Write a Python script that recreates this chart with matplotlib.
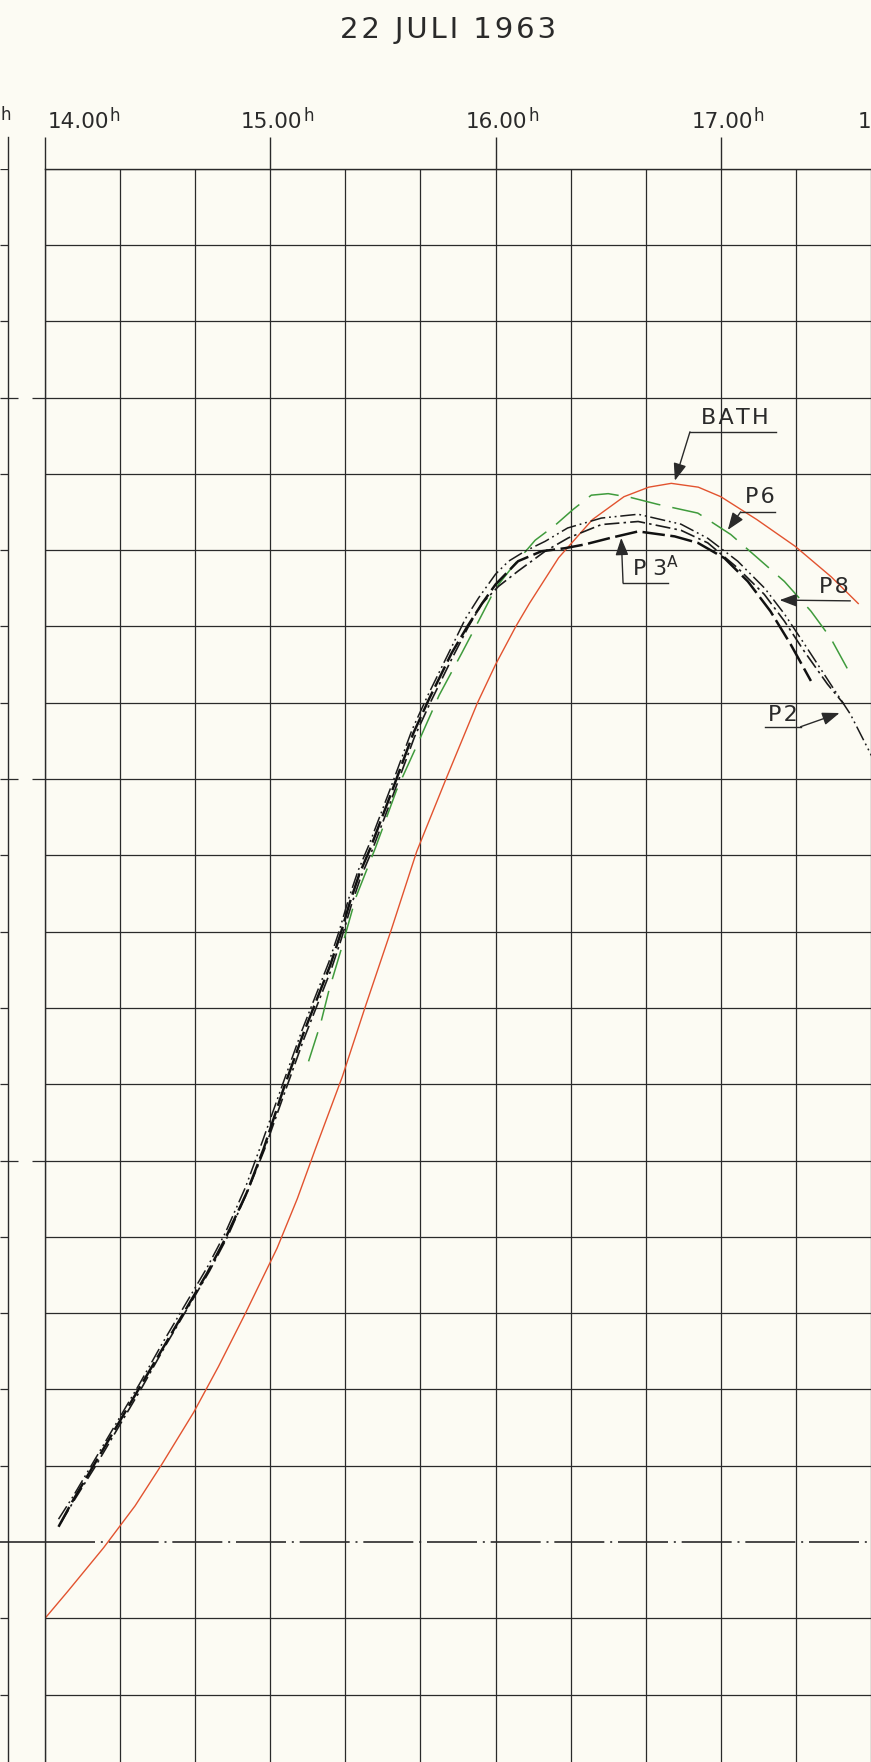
import matplotlib
matplotlib.use("Agg")
import matplotlib.pyplot as plt
import numpy as np

# water level (m) against time of day (decimal hours), 22 juli 1963
bath_t = [14.00, 14.10, 14.26, 14.40, 14.52, 14.66, 14.77, 14.89, 15.03, 15.12, 15.20,
          15.32, 15.42, 15.54, 15.65, 15.78, 15.92, 16.00, 16.09, 16.15, 16.28, 16.43,
          16.57, 16.68, 16.78, 16.90, 17.00, 17.16, 17.33, 17.49, 17.61]
bath_y = [-0.20, -0.13, -0.015, 0.095, 0.205, 0.34, 0.46, 0.60, 0.77, 0.90, 1.03,
          1.22, 1.40, 1.61, 1.81, 2.00, 2.20, 2.30, 2.40, 2.46, 2.58, 2.68,
          2.74, 2.765, 2.775, 2.765, 2.74, 2.68, 2.61, 2.53, 2.46]

p2_t = [14.06, 14.125, 14.21, 14.32, 14.42, 14.52, 14.63, 14.72, 14.80, 14.89, 14.965,
        15.055, 15.14, 15.20, 15.26, 15.305, 15.35, 15.39, 15.44, 15.53, 15.63, 15.70,
        15.80, 15.866, 15.925, 16.00, 16.058, 16.13, 16.22, 16.32, 16.47, 16.633, 16.823,
        16.942, 17.075, 17.195, 17.283, 17.372, 17.487, 17.575, 17.67]
p2_y = [0.06, 0.12, 0.205, 0.315, 0.415, 0.52, 0.63, 0.72, 0.81, 0.93, 1.05,
        1.20, 1.34, 1.43, 1.52, 1.60, 1.69, 1.76, 1.83, 1.97, 2.13, 2.22,
        2.34, 2.42, 2.475, 2.537, 2.571, 2.597, 2.623, 2.658, 2.684, 2.694, 2.668,
        2.631, 2.571, 2.50, 2.432, 2.353, 2.249, 2.170, 2.06]

p8_t = [14.07, 14.13, 14.22, 14.33, 14.43, 14.53, 14.64, 14.73, 14.81, 14.90, 14.975,
        15.065, 15.15, 15.21, 15.27, 15.315, 15.36, 15.40, 15.45, 15.54, 15.64, 15.71,
        15.81, 15.88, 15.94, 16.013, 16.10, 16.22, 16.323, 16.47, 16.633, 16.823, 16.942,
        17.075, 17.193, 17.282, 17.37, 17.473, 17.547]
p8_y = [0.05, 0.11, 0.195, 0.305, 0.405, 0.51, 0.62, 0.71, 0.80, 0.92, 1.03,
        1.18, 1.32, 1.41, 1.50, 1.58, 1.67, 1.74, 1.81, 1.95, 2.11, 2.20,
        2.32, 2.40, 2.46, 2.505, 2.545, 2.597, 2.632, 2.667, 2.675, 2.652, 2.619,
        2.553, 2.484, 2.414, 2.335, 2.249, 2.196]

p3a_t = [14.06, 14.12, 14.215, 14.32, 14.425, 14.525, 14.63, 14.72, 14.80, 14.895, 14.97,
         15.06, 15.145, 15.205, 15.265, 15.31, 15.355, 15.395, 15.445, 15.535, 15.635,
         15.705, 15.805, 15.875, 15.94, 16.00, 16.10, 16.204, 16.308, 16.397, 16.51,
         16.633, 16.795, 16.898, 17.016, 17.12, 17.22, 17.31, 17.40]
p3a_y = [0.04, 0.105, 0.20, 0.305, 0.41, 0.51, 0.615, 0.705, 0.795, 0.915, 1.03,
         1.19, 1.33, 1.42, 1.51, 1.59, 1.68, 1.75, 1.82, 1.96, 2.12,
         2.21, 2.33, 2.40, 2.46, 2.51, 2.571, 2.597, 2.605, 2.615, 2.632,
         2.649, 2.636, 2.619, 2.579, 2.518, 2.44, 2.353, 2.257]

p6_t = [15.17, 15.224, 15.26, 15.313, 15.38, 15.467, 15.56, 15.66, 15.75, 15.85, 15.93,
        16.00, 16.08, 16.176, 16.264, 16.345, 16.425, 16.50, 16.60, 16.72, 16.898,
        17.044, 17.164, 17.282, 17.40, 17.487, 17.575]
p6_y = [1.26, 1.36, 1.445, 1.55, 1.69, 1.82, 1.97, 2.10, 2.22, 2.33, 2.42,
        2.50, 2.56, 2.626, 2.665, 2.707, 2.744, 2.748, 2.738, 2.72, 2.697,
        2.641, 2.579, 2.518, 2.44, 2.37, 2.275]

hour_ticks = [14, 15, 16, 17]
hour_labels = ["14.00", "15.00", "16.00", "17.00"]

PAPER = "#fcfbf3"
INK = "#2a2a2a"
RED = "#e2532f"
GREEN = "#3f9b3c"
HS = "\u200a"   # hair space, the stencil lettering on the sheet is widely spaced

W, H = 871, 1762
x0, top = 45, 168.6          # pixel position of the 14.00 line and the top grid line
PX_H = 226                   # pixels per hour
fig = plt.figure(figsize=(W / 100, H / 100), dpi=100, facecolor=PAPER)

ax = fig.add_axes([x0 / W, 0, (W - x0) / W, 1 - top / H])
ax.set_facecolor(PAPER)
ax.set_xlim(14.0, 14.0 + (W - x0) / PX_H)
ax.set_ylim(-(H - 1542) / 381.6, 3.6)

levels = [round(v, 1) for v in np.arange(-0.4, 3.61, 0.2) if abs(v) > 1e-6]
ax.set_xticks(hour_ticks)
ax.set_xticks(np.arange(14, 17.7, 1 / 3), minor=True)
ax.set_yticks(levels)
ax.xaxis.set_ticks_position("top")
ax.tick_params(axis="x", which="major", direction="out", length=23, width=1,
               color=INK, labeltop=False, labelbottom=False)
ax.tick_params(axis="x", which="minor", length=0)
ax.tick_params(axis="y", length=0, labelleft=False)
ax.grid(True, which="both", color=INK, lw=0.9)
ax.set_axisbelow(True)
for s in ["right", "bottom"]:
    ax.spines[s].set_visible(False)
for s in ["top", "left"]:
    ax.spines[s].set_color(INK)
    ax.spines[s].set_linewidth(1)

ax.axhline(0, color=INK, lw=1.2, dashes=(30, 3.5, 1.2, 3.5))

# curves
ax.plot(bath_t, bath_y, color=RED, lw=1.0)
ax.plot(p6_t, p6_y, color=GREEN, lw=1.1, dashes=(20, 8))
ax.plot(p2_t, p2_y, color="#1b1b1b", lw=1.1, dashes=(10, 2.5, 1.2, 2.5, 1.2, 2.5))
ax.plot(p8_t, p8_y, color="#1b1b1b", lw=1.2, dashes=(9, 2.5, 1.5, 2.5))
ax.plot(p3a_t, p3a_y, color="#111111", lw=1.8, dashes=(9, 2.2))

# labels with leader arrows
arrow = dict(arrowstyle="-|>,head_length=0.75,head_width=0.28", color=INK, lw=1,
             shrinkA=0, shrinkB=0, mutation_scale=14)


def tag(text, pos, line_x, line_y, start, tip):
    ax.text(pos[0], pos[1], text, ha="center", va="center", fontsize=16, color=INK)
    if line_x:
        ax.plot(line_x, [line_y, line_y], color=INK, lw=1)
    ax.annotate("", xy=tip, xytext=start, arrowprops=arrow)


tag(HS.join("BATH"), (17.062, 2.946), [16.863, 17.243], 2.910, (16.863, 2.910), (16.796, 2.782))
tag(HS.join("P6"), (17.173, 2.739), [17.088, 17.239], 2.700, (17.088, 2.700), (17.031, 2.653))
tag(HS.join("P8"), (17.504, 2.504), None, None, (17.575, 2.467), (17.261, 2.469))
tag("P" + HS * 3 + "3$^{\\mathrm{A}}$", (16.712, 2.553), [16.566, 16.765], 2.514,
    (16.566, 2.514), (16.558, 2.632))
tag(HS.join("P2"), (17.274, 2.168), [17.195, 17.354], 2.137, (17.354, 2.137), (17.527, 2.173))

# hour labels above the grid: digits, then a raised h
xt = ax.get_xaxis_transform()
dy = H - top
label_right = [64, 32, 32, 32]   # px from the tick to the end of the digits
for h, lab, off in zip(hour_ticks, hour_labels, label_right):
    ax.text(h + off / PX_H, 1 + (top - 128) / dy, lab, transform=xt, ha="right",
            va="baseline", fontsize=15.5, color=INK, clip_on=False)
    ax.text(h + (off + 1) / PX_H, 1 + (top - 121) / dy, "h", transform=xt, ha="left",
            va="baseline", fontsize=12, color=INK, clip_on=False)

# neighbouring sheet on the left
strip = fig.add_axes([0, 0, x0 / W, 1 - top / H])
strip.set_xlim(0, x0)
strip.set_ylim(ax.get_ylim())
strip.axis("off")
strip.axvline(8, ymax=1 + 32 / dy, color=INK, lw=1, clip_on=False)
strip.hlines(levels, 0, 8, color=INK, lw=0.9)
strip.hlines([1, 2, 3], 8, 18, color=INK, lw=0.9)
strip.hlines([1, 2, 3], 32, 45, color=INK, lw=0.9)
strip.axhline(0, color=INK, lw=1.2, dashes=(30, 3.5, 1.2, 3.5))

# ends of the neighbouring hour labels
fig.text(1 / W, 1 - 120 / H, "h", ha="left", va="baseline", fontsize=12, color=INK)
fig.text(858 / W, 1 - 128 / H, "1", ha="left", va="baseline", fontsize=15.5, color=INK)
fig.text(448 / W, 1 - 30 / H, HS.join("22 JULI 1963"), ha="center", va="center",
         fontsize=21, color=INK)

fig.savefig("out.png", dpi=100, facecolor=PAPER)
